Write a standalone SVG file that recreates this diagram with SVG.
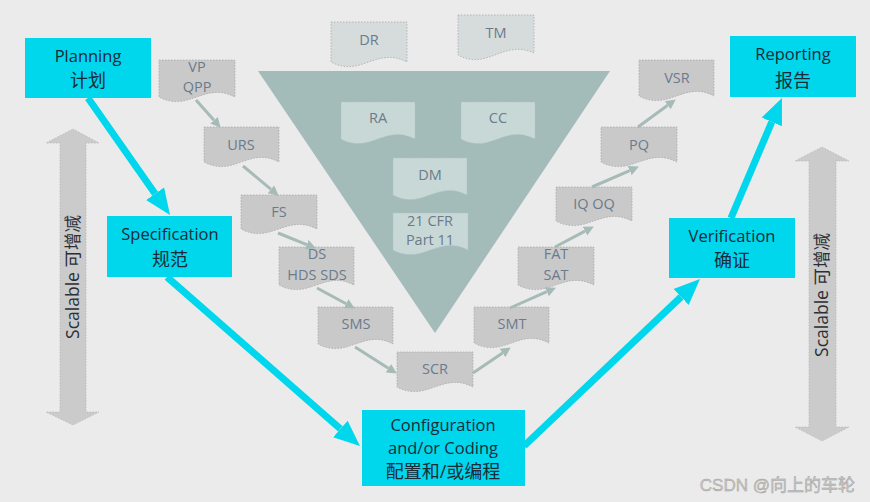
<svg xmlns="http://www.w3.org/2000/svg" width="870" height="502" viewBox="0 0 870 502">
<style>
.box{fill:#00d6ec}
.bt{font-family:"Open Sans","Noto Sans CJK SC",sans-serif;font-size:16.5px;fill:#1b2b38;text-anchor:middle}
.cj{font-size:18px}
.doc{fill:#c9c9c9;stroke:#a9a9a9;stroke-width:0.8;stroke-dasharray:1.5 1.5}
.idoc{fill:#c8d8d6;stroke:#b0c4c1;stroke-width:0.8;stroke-dasharray:1.5 1.5}
.dt{font-family:"Open Sans","Noto Sans CJK SC",sans-serif;font-size:14.5px;fill:#6b7b8c;text-anchor:middle}
.sc{font-family:"Open Sans","Noto Sans CJK SC",sans-serif;font-size:17.5px;fill:#2a2f36;text-anchor:middle}
.big{stroke:#00d6ec;stroke-width:7;fill:none}
.sm{stroke:#a6bbb7;stroke-width:3;fill:none}
.garrow{fill:#cbcbcb;stroke:#b8b8bc;stroke-width:0.8;stroke-dasharray:1.5 1.5}
</style>
<defs>
<marker id="ah" viewBox="0 -12 27 24" markerWidth="27" markerHeight="24" refX="0" refY="0" orient="auto" markerUnits="userSpaceOnUse"><path d="M0,-11 L26,0 L0,11 z" fill="#00d6ec"/></marker>
<marker id="sh" viewBox="0 -6 11 12" markerWidth="11" markerHeight="12" refX="0" refY="0" orient="auto" markerUnits="userSpaceOnUse"><path d="M0,-5 L10,0 L0,5 z" fill="#a6bbb7"/></marker>
</defs>
<rect width="870" height="502" fill="#ebebeb"/>

<g id="scale-left">
<path class="garrow" d="M73,129 L99,143 L86,143 L86,412 L99,412 L73,425 L46,412 L60,412 L60,143 L46,143 Z"/>
<text class="sc" transform="translate(79,277) rotate(-90)">Scalable 可增减</text>
</g>
<g id="scale-right">
<path class="garrow" d="M822,147 L849,161 L836,161 L836,427 L849,427 L822,441 L795,427 L809,427 L809,161 L795,161 Z"/>
<text class="sc" transform="translate(828,295) rotate(-90)">Scalable 可增减</text>
</g>

<g id="triangle"><polygon points="258,71 610,71 435,333" fill="#a3bcb9"/></g>

<g id="DR"><path class="doc" d="M331,22 H407 V62 C376,46 361,78 331,62 Z" style="fill:#d6dcdc"/><text class="dt" x="369" y="45">DR</text></g>
<g id="TM"><path class="doc" d="M458,15 H534 V53 C503,39 488,71 458,55 Z" style="fill:#d6dcdc"/><text class="dt" x="496" y="38">TM</text></g>
<g id="RA"><path class="idoc" d="M341,102 H415 V139 C385,123 370,155 341,139 Z"/><text class="dt" x="378" y="123">RA</text></g>
<g id="CC"><path class="idoc" d="M461,102 H535 V139 C505,123 490,155 461,139 Z"/><text class="dt" x="498" y="123">CC</text></g>
<g id="DM"><path class="idoc" d="M393,158 H467 V195 C437,179 422,211 393,195 Z"/><text class="dt" x="430" y="180">DM</text></g>
<g id="CFR"><path class="idoc" d="M393,213 H468 V250 C438,234 423,266 393,250 Z"/><text class="dt" x="430" y="226">21 CFR</text><text class="dt" x="430" y="245">Part 11</text></g>

<g id="VP"><path class="doc" d="M159,60 H235 V97 C204,81 189,113 159,97 Z"/><text class="dt" x="197" y="72">VP</text><text class="dt" x="197" y="92">QPP</text></g>
<g id="URS"><path class="doc" d="M204,127 H279 V162 C249,146 234,178 204,162 Z"/><text class="dt" x="241" y="150">URS</text></g>
<g id="FS"><path class="doc" d="M241,195 H317 V229 C286,213 271,245 241,229 Z"/><text class="dt" x="279" y="217">FS</text></g>
<g id="DS"><path class="doc" d="M279,247 H354 V285 C324,269 309,301 279,285 Z"/><text class="dt" x="317" y="259">DS</text><text class="dt" x="317" y="280">HDS SDS</text></g>
<g id="SMS"><path class="doc" d="M318,307 H393 V344 C363,328 348,360 318,344 Z"/><text class="dt" x="356" y="329">SMS</text></g>
<g id="SCR"><path class="doc" d="M397,352 H473 V387 C442,371 427,403 397,387 Z"/><text class="dt" x="435" y="374">SCR</text></g>
<g id="SMT"><path class="doc" d="M474,307 H549 V343 C519,327 504,359 474,343 Z"/><text class="dt" x="512" y="329">SMT</text></g>
<g id="FAT"><path class="doc" d="M518,247 H594 V285 C563,269 548,301 518,285 Z"/><text class="dt" x="556" y="259">FAT</text><text class="dt" x="556" y="280">SAT</text></g>
<g id="IQOQ"><path class="doc" d="M556,187 H632 V221 C601,205 586,237 556,221 Z"/><text class="dt" x="594" y="209">IQ OQ</text></g>
<g id="PQ"><path class="doc" d="M601,127 H677 V162 C646,146 631,178 601,162 Z"/><text class="dt" x="639" y="150">PQ</text></g>
<g id="VSR"><path class="doc" d="M639,60 H714 V96 C684,80 669,112 639,96 Z"/><text class="dt" x="677" y="83">VSR</text></g>

<g id="connectors">
<line class="sm" x1="196" y1="100" x2="214" y2="120.3" marker-end="url(#sh)"/>
<line class="sm" x1="243" y1="166" x2="271" y2="189.3" marker-end="url(#sh)"/>
<line class="sm" x1="278" y1="233" x2="306.7" y2="244.6" marker-end="url(#sh)"/>
<line class="sm" x1="317" y1="288" x2="346.1" y2="303.7" marker-end="url(#sh)"/>
<line class="sm" x1="355" y1="347" x2="388.4" y2="368.2" marker-end="url(#sh)"/>
<line class="sm" x1="473" y1="373" x2="502.5" y2="353" marker-end="url(#sh)"/>
<line class="sm" x1="510" y1="308" x2="546.8" y2="291.7" marker-end="url(#sh)"/>
<line class="sm" x1="555" y1="247" x2="585" y2="231.2" marker-end="url(#sh)"/>
<line class="sm" x1="592" y1="187" x2="629.7" y2="170.6" marker-end="url(#sh)"/>
<line class="sm" x1="638" y1="127" x2="667.7" y2="105.3" marker-end="url(#sh)"/>
<line class="big" x1="88" y1="98" x2="155.1" y2="193.7" marker-end="url(#ah)"/>
<line class="big" x1="167" y1="277" x2="340.4" y2="428.9" marker-end="url(#ah)"/>
<line class="big" x1="524" y1="446" x2="681.1" y2="296.9" marker-end="url(#ah)"/>
<line class="big" x1="731" y1="218" x2="771.8" y2="121.9" marker-end="url(#ah)"/>
</g>

<g id="planning"><rect class="box" x="25" y="38" width="126" height="60"/><text class="bt" x="88" y="62">Planning</text><text class="bt cj" x="88" y="87">计划</text></g>
<g id="specification"><rect class="box" x="107" y="216" width="125" height="61"/><text class="bt" x="170" y="240">Specification</text><text class="bt cj" x="170" y="266">规范</text></g>
<g id="configuration"><rect class="box" x="362" y="410" width="163" height="76"/><text class="bt" x="443" y="431">Configuration</text><text class="bt" x="443" y="454">and/or Coding</text><text class="bt cj" x="443" y="478">配置和/或编程</text></g>
<g id="verification"><rect class="box" x="669" y="218" width="126" height="60"/><text class="bt" x="732" y="242">Verification</text><text class="bt cj" x="732" y="267">确证</text></g>
<g id="reporting"><rect class="box" x="730" y="36" width="126" height="61"/><text class="bt" x="793" y="60">Reporting</text><text class="bt cj" x="793" y="87">报告</text></g>

<text x="855" y="491" text-anchor="end" font-family="'Liberation Sans','Noto Sans CJK SC',sans-serif" font-size="17" fill="#c8c8c8" stroke="#9a9a9a" stroke-width="0.4">CSDN @向上的车轮</text>
</svg>
